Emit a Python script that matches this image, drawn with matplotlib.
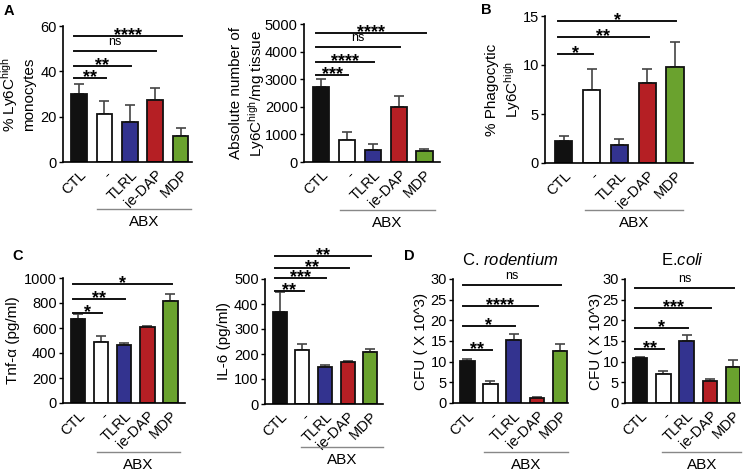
import numpy as np
import matplotlib
matplotlib.use("Agg")
import matplotlib.pyplot as plt
from matplotlib import transforms

plt.rcParams['font.family'] = ['Liberation Sans', 'DejaVu Sans']
plt.rcParams['mathtext.fontset'] = 'custom'
plt.rcParams['mathtext.rm'] = 'Liberation Sans'
plt.rcParams['mathtext.it'] = 'Liberation Sans:italic'

W, H = 748, 475

# categories and colours shared by all panels
groups = ['CTL', '-', 'TLRL', 'ie-DAP', 'MDP']
bar_colors = ['#111111', '#ffffff', '#33338f', '#b51f24', '#6aa22e']

# panel A left: % Ly6C high monocytes
a1_vals = [30, 21, 17.5, 27.5, 11.5]
a1_err = [4.5, 6, 7.5, 5, 3.5]
a1_sig = [(1, 37, '**'), (2, 42.4, '**'), (3, 49, 'ns'), (4, 55.6, '****')]

# panel A right: absolute number
a2_vals = [2700, 800, 450, 2000, 400]
a2_err = [300, 300, 200, 380, 80]
a2_sig = [(1, 3150, '***'), (2, 3620, '****'), (3, 4170, 'ns'), (4, 4670, '****')]

# panel B: % phagocytic
b_vals = [2.2, 7.5, 1.8, 8.2, 9.8]
b_err = [0.6, 2.1, 0.6, 1.4, 2.5]
b_sig = [(1, 11.1, '*'), (3, 12.9, '**'), (4, 14.5, '*')]

# panel C: Tnf-a and IL-6
c1_vals = [675, 490, 462, 612, 820]
c1_err = [40, 50, 18, 5, 50]
c1_sig = [(1, 720, '*'), (2, 832, '**'), (4, 952, '*')]

c2_vals = [370, 218, 150, 170, 207]
c2_err = [80, 22, 5, 3, 13]
c2_sig = [(1, 452, '**'), (2, 504, '***'), (3, 544, '**'), (4, 592, '**')]

# panel D: CFU
d1_vals = [10.1, 4.5, 15.3, 1.3, 12.5]
d1_err = [0.5, 0.9, 1.4, 0.1, 1.8]
d1_sig = [(1, 12.8, '**'), (2, 18.6, '*'), (3, 23.5, '****'), (4, 28.5, 'ns')]

d2_vals = [11, 7, 15, 5.3, 8.6]
d2_err = [0.2, 0.8, 1.5, 0.5, 1.9]
d2_sig = [(1, 13.1, '**'), (2, 18.1, '*'), (3, 23, '***'), (4, 27.8, 'ns')]

fig = plt.figure(figsize=(W / 100, H / 100), dpi=100)


def add_axes_px(x0, x1, ytop, ybot):
    """axes from pixel box (top = y of max tick, bottom = y of zero)"""
    return fig.add_axes([x0 / W, 1 - ybot / H, (x1 - x0) / W, (ybot - ytop) / H])


def bar_panel(box, vals, err, sig, yticks, ylabel, label_px, xlim, abx_y, abx_x, title=None):
    ax = add_axes_px(*box)
    x = np.arange(len(groups))
    ax.errorbar(x, vals, yerr=[np.zeros(len(err)), err], fmt='none',
                ecolor='#444444', elinewidth=1.2, capsize=3.5, capthick=1.2, zorder=1)
    ax.bar(x, vals, width=0.62, color=bar_colors, edgecolor='#111111', linewidth=1.3, zorder=2)
    ax.set_xlim(*xlim)
    ax.set_ylim(0, yticks[-1])
    ax.set_yticks(yticks)
    ax.set_xticks(x)
    ax.set_xticklabels(groups, rotation=45, ha='right', rotation_mode='anchor', fontsize=10.5)
    ax.tick_params(axis='y', labelsize=10.5, length=3, width=1, pad=1.5)
    ax.tick_params(axis='x', length=0, pad=4)
    for s in ['top', 'right']:
        ax.spines[s].set_visible(False)
    for s in ['left', 'bottom']:
        ax.spines[s].set_linewidth(1.2)
    ax.set_ylabel(ylabel, fontsize=11)
    ax.yaxis.set_label_coords(label_px / (box[1] - box[0]), 0.5)

    # significance lines from CTL to each group
    for target, y, label in sig:
        ax.plot([-0.2, target + 0.05], [y, y], color='#111111', lw=1.4, clip_on=False)
        xc = (target - 0.15) / 2
        if label == 'ns':
            ax.annotate(label, (xc, y), xytext=(0, 2), textcoords='offset points',
                        ha='center', va='bottom', fontsize=9, annotation_clip=False)
        else:
            ax.annotate(label, (xc, y), xytext=(0, -3), textcoords='offset points',
                        ha='center', va='baseline', fontsize=13, fontweight='bold',
                        annotation_clip=False)

    # ABX grouping line below the tick labels
    trans = transforms.blended_transform_factory(ax.transData, fig.transFigure)
    ax.plot(abx_x, [1 - abx_y / H] * 2, color='#888888', lw=1, transform=trans, clip_on=False)
    ax.text(np.mean(abx_x), 1 - (abx_y + 6) / H, 'ABX', transform=trans, ha='center', va='top',
            fontsize=11)
    if title:
        ax.set_title(title, fontsize=12, pad=10)
    return ax


bar_panel((63, 192, 26, 162), a1_vals, a1_err, a1_sig, [0, 20, 40, 60],
          '% Ly6C$^{\\mathregular{high}}$\nmonocytes', -27, (-0.63, 4.45), 209, (0.72, 4.4))
bar_panel((304, 440, 24, 162), a2_vals, a2_err, a2_sig, [0, 1000, 2000, 3000, 4000, 5000],
          'Absolute number of\nLy6C$^{\\mathregular{high}}$/mg tissue', -37, (-0.66, 4.6), 210,
          (0.72, 4.4))
bar_panel((545, 693, 16, 163), b_vals, b_err, b_sig, [0, 5, 10, 15],
          '% Phagocytic\nLy6C$^{\\mathregular{high}}$', -22, (-0.68, 4.65), 210, (0.75, 4.3))
bar_panel((63, 185, 278, 403), c1_vals, c1_err, c1_sig, [0, 200, 400, 600, 800, 1000],
          'Tnf-\u03b1 (pg/ml)', -43, (-0.65, 4.63), 452, (0.8, 4.4))
bar_panel((265, 383, 279, 404), c2_vals, c2_err, c2_sig, [0, 100, 200, 300, 400, 500],
          'IL-6 (pg/ml)', -34, (-0.66, 4.57), 447, (0.92, 4.57))
bar_panel((453, 568, 279, 403), d1_vals, d1_err, d1_sig, [0, 5, 10, 15, 20, 25, 30],
          'CFU ( X 10^3)', -25, (-0.62, 4.35), 452, (0.7, 4.35), 'C. $\\it{rodentium}$')
bar_panel((625, 740, 279, 403), d2_vals, d2_err, d2_sig, [0, 5, 10, 15, 20, 25, 30],
          'CFU ( X 10^3)', -22, (-0.65, 4.3), 452, (0.95, 4.35), 'E.$\\it{coli}$')

# panel letters
for letter, px, py in [('A', 4, 4), ('B', 481, 3), ('C', 12, 249), ('D', 404, 249)]:
    fig.text(px / W, 1 - py / H, letter, fontsize=10.5, fontweight='bold', va='top', ha='left')

fig.savefig('out.png', dpi=100)
